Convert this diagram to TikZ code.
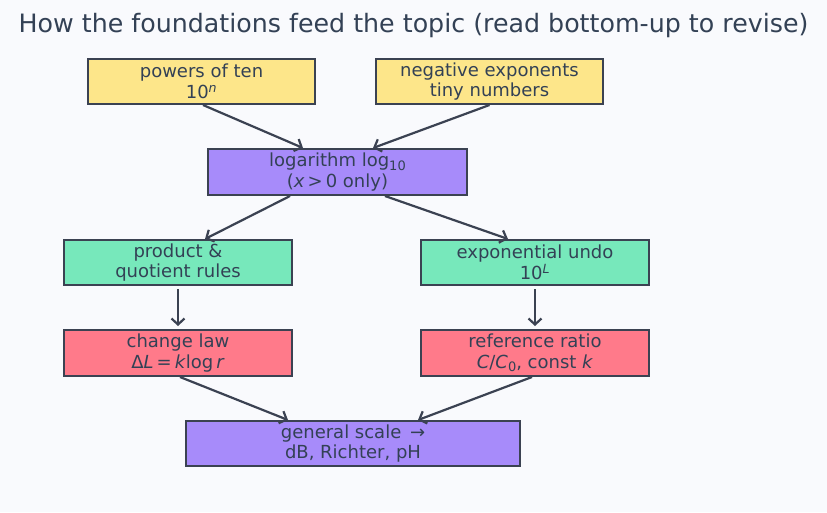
\documentclass[tikz,border=0pt]{standalone}
\usepackage{fontspec}
\setmainfont{DejaVu Sans}
\usetikzlibrary{arrows.meta,calc}
\definecolor{bgc}{HTML}{F9FAFD}
\definecolor{edgec}{HTML}{3B4252}
\definecolor{txtc}{HTML}{334155}
\definecolor{yel}{HTML}{FDE68A}
\definecolor{pur}{HTML}{A78BFA}
\definecolor{grn}{HTML}{77E8BB}
\definecolor{redc}{HTML}{FF7A8A}
\newcommand{\mi}[1]{\textit{#1}}
\newcommand{\lowsub}[1]{\raisebox{-0.22em}{\fontsize{13}{13}\selectfont #1}}
\tikzset{
  boxnode/.style={draw=edgec, line width=2pt, text=txtc, align=center,
    inner sep=0pt, font=\fontsize{18}{20.5}\selectfont},
  link/.style={draw=edgec, line width=2.2pt, -{Straight Barb[length=6pt,width=13pt,line width=2.2pt]}}
}
\begin{document}
\begin{tikzpicture}[x=1pt,y=-1pt]
\fill[bgc] (0,0) rectangle (827,512);
\useasboundingbox (0,0) rectangle (827,512);
\node[text=txtc, font=\fontsize{25.3}{28}\selectfont] (title) at (413.5,26) {How the foundations feed the topic (read bottom-up to revise)};
\node[boxnode, fill=yel, minimum width=227pt, minimum height=45pt] (p10) at (201.5,81.5) {powers of ten\\10\textsuperscript{\mi{n}}};
\node[boxnode, fill=yel, minimum width=227pt, minimum height=45pt] (neg) at (489.5,81.5) {negative exponents\\tiny numbers};
\node[boxnode, fill=pur, minimum width=259pt, minimum height=46pt] (log) at (337.5,172) {logarithm log\lowsub{10}\\(\mi{x}\,>\,0 only)};
\node[boxnode, fill=grn, minimum width=228pt, minimum height=45pt] (prod) at (178,262.5) {product \&\\quotient rules};
\node[boxnode, fill=grn, minimum width=228pt, minimum height=45pt] (expo) at (535,262.5) {exponential undo\\10\textsuperscript{\mi{L}}};
\node[boxnode, fill=redc, minimum width=228pt, minimum height=46pt] (chg) at (178,353) {change law\\Δ\mi{L}\,=\,\mi{k}log\,\mi{r}};
\node[boxnode, fill=redc, minimum width=228pt, minimum height=46pt] (ref) at (535,353) {reference ratio\\\mi{C}/\mi{C}\lowsub{0}, const \mi{k}};
\node[boxnode, fill=pur, minimum width=334pt, minimum height=45pt] (gen) at (353,443.5) {general scale \,→\\dB, Richter, pH};
\draw[link] ([xshift=1.5pt]p10.south) -- ([xshift=-34.5pt]log.north);
\draw[link] ([xshift=0pt]neg.south) -- ([xshift=35.5pt]log.north);
\draw[link] ([xshift=-47.5pt]log.south) -- ([xshift=27pt]prod.north);
\draw[link] ([xshift=47.5pt]log.south) -- ([xshift=-27pt]expo.north);
\draw[link, shorten <=3pt, shorten >=3pt] (prod.south) -- (chg.north);
\draw[link, shorten <=3pt, shorten >=3pt] (expo.south) -- (ref.north);
\draw[link] ([xshift=2pt]chg.south) -- ([xshift=-65pt]gen.north);
\draw[link] ([xshift=-3pt]ref.south) -- ([xshift=65pt]gen.north);
\end{tikzpicture}
\end{document}
